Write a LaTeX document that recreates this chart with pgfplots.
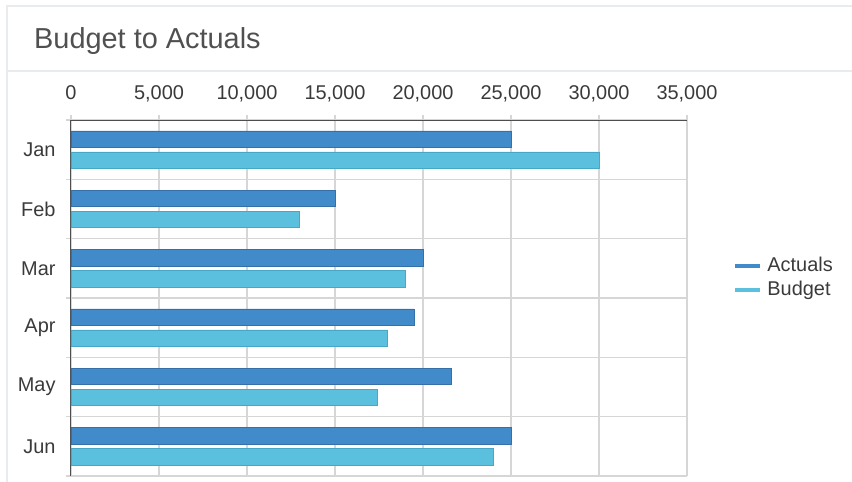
\documentclass[border=0pt]{standalone}
\usepackage{fontspec}
\setmainfont{Liberation Sans}
\usepackage{pgfplots}
\pgfplotsset{compat=1.18}
\definecolor{actc}{HTML}{428BCA}
\definecolor{actb}{HTML}{3571A8}
\definecolor{budc}{HTML}{5BC0DE}
\definecolor{budb}{HTML}{46A8C6}
\definecolor{gridc}{HTML}{D6D6D6}
\definecolor{txtc}{HTML}{3A3A3A}
\definecolor{titc}{HTML}{505050}
\definecolor{framec}{HTML}{E8ECEE}
\begin{document}
\begin{tikzpicture}
\begin{axis}[
  scale only axis, width=616bp, height=356bp,
  xbar, bar width=16.5bp,
  xmin=0, xmax=35000,
  ymin=-0.5, ymax=5.5, y dir=reverse,
  axis x line*=top, axis y line*=left,
  axis line style={color=txtc!90, line width=1bp},
  xtick={0,5000,...,35000},
  xticklabel style={text=txtc, font=\fontsize{20}{24}\selectfont, anchor=base, yshift=15bp},
  /pgf/number format/assume math mode=true,
  /pgf/number format/1000 sep={,},
  scaled x ticks=false,
  xmajorgrids, major grid style={gridc, line width=1.3bp},
  ytick={0,...,5}, yticklabels={Jan,Feb,Mar,Apr,May,Jun},
  yticklabel style={text=txtc, font=\fontsize{20}{24}\selectfont, xshift=-7bp},
  major y tick style={draw=none},
  minor ytick={-0.5,0.5,...,5.5}, yminorgrids,
  minor grid style={gridc, line width=1.3bp},
  minor tick length=5bp, major tick length=5bp,
  tick align=outside,
  x tick style={gridc, line width=1.3bp},
  minor y tick style={gridc, line width=1.3bp},
  legend style={at={(1.075,0.555)}, anchor=west, draw=none, fill=none,
     font=\fontsize{20}{22}\selectfont, text=txtc, row sep=0bp, column sep=3bp, inner sep=0bp,
     nodes={inner sep=2bp, text height=15bp, text depth=5bp}},
  legend cell align=left,
  clip=false,
]
\addplot[fill=actc, draw=actb, line width=0.8bp, bar shift=10.5bp,
  legend image code/.code={\draw[actc, line width=4bp] (0bp,0bp) -- (25bp,0bp);}]
  coordinates {(25000,0) (15000,1) (20000,2) (19500,3) (21600,4) (25000,5)};
\addplot[fill=budc, draw=budb, line width=0.8bp, bar shift=-10.5bp,
  legend image code/.code={\draw[budc, line width=4bp] (0bp,0bp) -- (25bp,0bp);}]
  coordinates {(30000,0) (13000,1) (19000,2) (18000,3) (17400,4) (24000,5)};
\legend{Actuals,Budget}
\coordinate (TL) at (axis cs:0,-0.5);
\end{axis}
\pgfresetboundingbox
\path[use as bounding box] ([shift={(-71bp,120bp)}]TL) rectangle ([shift={(781bp,-362bp)}]TL);
\draw[framec, line width=1.2bp] ([shift={(-64bp,-362bp)}]TL) -- ([shift={(-64bp,114bp)}]TL) -- ([shift={(781bp,114bp)}]TL);
\draw[framec, line width=1.2bp] ([shift={(-64bp,49bp)}]TL) -- ([shift={(781bp,49bp)}]TL);
\node[anchor=base west, inner sep=0, text=titc, font=\fontsize{29}{34}\selectfont] at ([shift={(-37bp,71bp)}]TL) {Budget to Actuals};
\end{tikzpicture}
\end{document}
